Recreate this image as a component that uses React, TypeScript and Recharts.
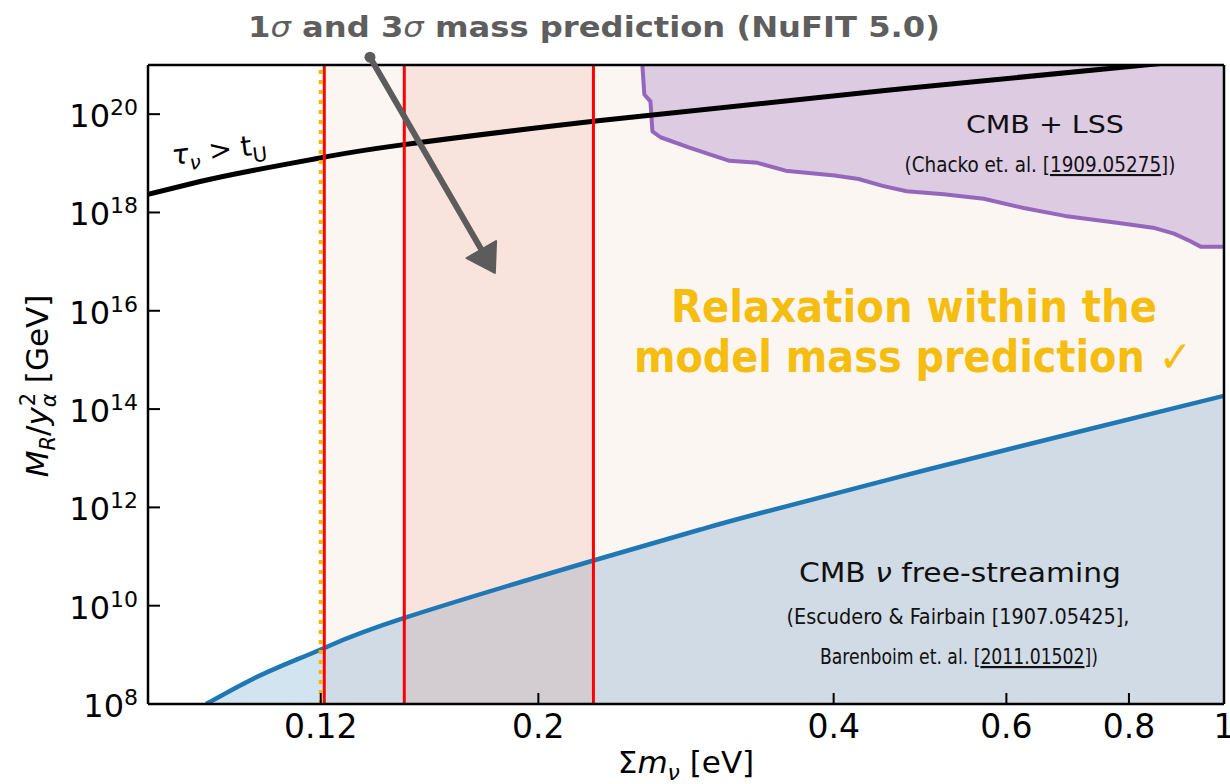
import React from 'react';
import { ComposedChart, Line, Area, XAxis, YAxis, ReferenceLine, ReferenceDot } from 'recharts';

// ---- data (Σm_ν in eV, log10 of M_R/y_α^2 in GeV) ----
const lifetimeMass = [0.08, 0.0904, 0.1017, 0.1213, 0.1446, 0.2313, 0.4487, 0.8306, 1.0];
const lifetimeLog = [18.37, 18.63, 18.845, 19.13, 19.37, 19.87, 20.476, 21.0, 21.15];

const freeStreamMass = [0.0917, 0.1009, 0.1099, 0.121, 0.146, 0.2276, 0.2926, 0.3378, 0.4943, 0.7212, 1.0];
const freeStreamLog = [8.0, 8.45, 8.79, 9.14, 9.75, 10.92, 11.55, 11.89, 12.75, 13.57, 14.27];

const lssMass = [0.2553, 0.2565, 0.2602, 0.2614, 0.2664, 0.2851, 0.3132, 0.3345, 0.3573, 0.4009, 0.4241, 0.4487, 0.4747, 0.5178, 0.5689, 0.625, 0.6884, 0.7775, 0.8464, 0.8892, 0.9232, 0.9475, 1.0];
const lssLog = [21.0, 20.4, 20.26, 19.65, 19.53, 19.32, 19.05, 19.01, 18.85, 18.75, 18.68, 18.54, 18.43, 18.37, 18.28, 18.09, 17.93, 17.79, 17.69, 17.57, 17.42, 17.3, 17.3];

const sigma3Range = [0.121, 1.0];
const sigma1Range = [0.146, 0.2276];
const sigma3Lines = [0.121, 0.146, 0.2276];
const lightestBound = 0.12;

const arrowMass = [0.1347, 0.1806];
const arrowLog = [21.16, 16.77];

const xTicks = [0.12, 0.2, 0.4, 0.6, 0.8, 1];
const xTickLabels = ['0.12', '0.2', '0.4', '0.6', '0.8', '1'];
const yTickExps = [8, 10, 12, 14, 16, 18, 20];

const X_DOMAIN = [0.08, 1];
const Y_DOMAIN = [1e8, 1e21];

// ---- tables built from the arrays ----
const lifetimeData = lifetimeMass.map((m, i) => ({ m, M: 10 ** lifetimeLog[i] }));
const fsData = freeStreamMass.map((m, i) => ({ m, M: 10 ** freeStreamLog[i] }));
const fsLeft = fsData.filter((d) => d.m <= sigma3Range[0]);
const fsRight = fsData.filter((d) => d.m >= sigma3Range[0]);
const lssData = lssMass.map((m, i) => ({ m, M: 10 ** lssLog[i], range: [10 ** lssLog[i], Y_DOMAIN[1]] }));
const band3 = sigma3Range.map((m) => ({ m, range: [Y_DOMAIN[0], Y_DOMAIN[1]] }));
const band1 = sigma1Range.map((m) => ({ m, range: [Y_DOMAIN[0], Y_DOMAIN[1]] }));
const yTicks = yTickExps.map((e) => 10 ** e);

const SANS = "'DejaVu Sans', 'Noto Sans', sans-serif";
const HAND = "'DejaVu Sans', 'Noto Sans', sans-serif";
const NARROW = "'Liberation Sans Narrow', 'DejaVu Sans Condensed', 'Noto Sans', sans-serif";
const GOLD = '#f4bd10';

const XTick = (props: any) => {
  const { x, y, payload } = props;
  const idx = xTicks.indexOf(payload.value);
  return (
    <text x={x} y={y} dy={34} textAnchor="middle" fontSize={33} fontFamily={SANS} fill="#000">
      {idx >= 0 ? xTickLabels[idx] : ''}
    </text>
  );
};

const YTick = (props: any) => {
  const { x, y, payload } = props;
  const exp = Math.round(Math.log10(payload.value));
  return (
    <text x={x} y={y} textAnchor="end" fontFamily={SANS} fill="#000">
      <tspan fontSize={32} dy={13}>10</tspan>
      <tspan fontSize={22} dy={-12}>{exp}</tspan>
    </text>
  );
};

const XLabel = () => (
  <text x={686} y={773} textAnchor="middle" fontSize={31} fontFamily={SANS} fill="#000">
    Σ<tspan fontStyle="italic">m</tspan>
    <tspan fontStyle="italic" fontSize={22} dy={7}>ν</tspan>
    <tspan dy={-7}> [eV]</tspan>
  </text>
);

const YLabel = () => {
  const cx = 48;
  const cy = 386;
  return (
    <text x={cx} y={cy} transform={`rotate(-90, ${cx}, ${cy})`} textAnchor="middle" fontSize={31} fontFamily={SANS} fill="#000">
      <tspan fontStyle="italic">M</tspan>
      <tspan fontStyle="italic" fontSize={21} dy={7}>R</tspan>
      <tspan dy={-7}>/</tspan>
      <tspan fontStyle="italic">y</tspan>
      <tspan fontStyle="italic" fontSize={21} dy={8}>α</tspan>
      <tspan fontSize={21} dx={-13} dy={-21}>2</tspan>
      <tspan dy={13}> [GeV]</tspan>
    </text>
  );
};

const ArrowShape = (p: any) => {
  const { x1, y1, x2, y2 } = p;
  if ([x1, y1, x2, y2].some((v) => typeof v !== 'number' || isNaN(v))) return <g />;
  const dx = x2 - x1;
  const dy = y2 - y1;
  const len = Math.hypot(dx, dy);
  const ux = dx / len;
  const uy = dy / len;
  const head = 27;
  const half = 17;
  const bx = x2 - ux * head;
  const by = y2 - uy * head;
  const px = -uy;
  const py = ux;
  const col = '#5c5c5c';
  return (
    <g>
      <line x1={x1} y1={y1} x2={bx + ux * 4} y2={by + uy * 4} stroke={col} strokeWidth={6} strokeLinecap="round" />
      <circle cx={x1} cy={y1} r={5.5} fill={col} />
      <polygon
        points={`${x2},${y2} ${bx + px * half},${by + py * half} ${bx - px * half},${by - py * half}`}
        fill={col}
        stroke={col}
        strokeWidth={2}
        strokeLinejoin="round"
      />
    </g>
  );
};

type Note = {
  m: number;
  e: number;
  render: (cx: number, cy: number) => React.ReactElement;
};

const notes: Note[] = [
  {
    m: 0.2279,
    e: 21.57,
    render: (cx, cy) => (
      <text x={cx} y={cy} textAnchor="middle" fontSize={29} fontWeight="bold" fontFamily={HAND} fill="#5e5e5e" textLength={692} lengthAdjust="spacingAndGlyphs">
        1<tspan fontStyle="italic" fontWeight="normal">σ</tspan> and 3<tspan fontStyle="italic" fontWeight="normal">σ</tspan> mass prediction (NuFIT 5.0)
      </text>
    ),
  },
  {
    m: 0.483,
    e: 15.772,
    render: (cx, cy) => (
      <text x={cx} y={cy} textAnchor="middle" fontSize={44} fontWeight="bold" fontFamily={HAND} fill={GOLD} textLength={486} lengthAdjust="spacingAndGlyphs">
        Relaxation within the
      </text>
    ),
  },
  {
    m: 0.4819,
    e: 14.754,
    render: (cx, cy) => (
      <text x={cx} y={cy} textAnchor="middle" fontSize={44} fontWeight="bold" fontFamily={HAND} fill={GOLD} textLength={558} lengthAdjust="spacingAndGlyphs">
        model mass prediction ✓
      </text>
    ),
  },
  {
    m: 0.6568,
    e: 19.617,
    render: (cx, cy) => (
      <text x={cx} y={cy} textAnchor="middle" fontSize={24} fontFamily={HAND} fill="#111" textLength={158} lengthAdjust="spacingAndGlyphs">
        CMB + LSS
      </text>
    ),
  },
  {
    m: 0.6492,
    e: 18.823,
    render: (cx, cy) => (
      <text x={cx} y={cy} textAnchor="middle" fontSize={21} fontFamily={NARROW} fill="#111" textLength={271} lengthAdjust="spacingAndGlyphs">
        (Chacko et. al. [<tspan textDecoration="underline">1909.05275</tspan>])
      </text>
    ),
  },
  {
    m: 0.538,
    e: 10.482,
    render: (cx, cy) => (
      <text x={cx} y={cy} textAnchor="middle" fontSize={26} fontFamily={HAND} fill="#111" textLength={322} lengthAdjust="spacingAndGlyphs">
        CMB <tspan fontStyle="italic">ν</tspan> free-streaming
      </text>
    ),
  },
  {
    m: 0.5355,
    e: 9.628,
    render: (cx, cy) => (
      <text x={cx} y={cy} textAnchor="middle" fontSize={22} fontFamily={NARROW} fill="#111" textLength={343} lengthAdjust="spacingAndGlyphs">
        (Escudero &amp; Fairbain [1907.05425],
      </text>
    ),
  },
  {
    m: 0.5368,
    e: 8.814,
    render: (cx, cy) => (
      <text x={cx} y={cy} textAnchor="middle" fontSize={22} fontFamily={NARROW} fill="#111" textLength={278} lengthAdjust="spacingAndGlyphs">
        Barenboim et. al. [<tspan textDecoration="underline">2011.01502</tspan>])
      </text>
    ),
  },
  {
    m: 0.08484,
    e: 18.966,
    render: (cx, cy) => (
      <text x={cx} y={cy} transform={`rotate(-7, ${cx}, ${cy})`} textAnchor="start" fontSize={28} fontFamily={SANS} fill="#000">
        <tspan fontStyle="italic">τ</tspan>
        <tspan fontStyle="italic" fontSize={20} dy={7}>ν</tspan>
        <tspan dy={-7}> &gt; t</tspan>
        <tspan fontSize={20} dy={7}>U</tspan>
      </text>
    ),
  },
];

export default function App() {
  return (
    <div style={{ position: 'absolute', left: 0, top: 0, width: 1230, height: 784, background: '#fff' }}>
      <ComposedChart width={1230} height={784} margin={{ top: 65, right: 6, bottom: 20, left: 8 }}>
        <XAxis
          dataKey="m"
          type="number"
          scale="log"
          domain={X_DOMAIN}
          allowDataOverflow
          ticks={xTicks}
          tick={<XTick />}
          tickSize={-11}
          tickMargin={11}
          height={60}
          axisLine={{ stroke: '#000', strokeWidth: 2.5 }}
          tickLine={{ stroke: '#000', strokeWidth: 2 }}
          label={XLabel}
        />
        <YAxis
          type="number"
          scale="log"
          domain={Y_DOMAIN}
          allowDataOverflow
          ticks={yTicks}
          tick={<YTick />}
          tickSize={-12}
          tickMargin={22}
          width={140}
          axisLine={{ stroke: '#000', strokeWidth: 2.5 }}
          tickLine={{ stroke: '#000', strokeWidth: 2 }}
          label={YLabel}
        />
        <Area data={band3} dataKey="range" type="linear" fill="#fcf6f3" fillOpacity={1} stroke="none" isAnimationActive={false} />
        <Area data={lssData} dataKey="range" type="linear" fill="#ddcbe2" fillOpacity={1} stroke="none" isAnimationActive={false} />
        <Area data={fsLeft} dataKey="M" type="natural" baseValue={Y_DOMAIN[0]} fill="#d2e4ef" fillOpacity={1} stroke="none" isAnimationActive={false} />
        <Area data={fsRight} dataKey="M" type="natural" baseValue={Y_DOMAIN[0]} fill="#d0dbe5" fillOpacity={1} stroke="none" isAnimationActive={false} />
        <Area data={band1} dataKey="range" type="linear" fill="#e8765f" fillOpacity={0.14} stroke="none" isAnimationActive={false} />
        <Line data={fsData} dataKey="M" type="natural" stroke="#1f77b4" strokeWidth={4.5} dot={false} isAnimationActive={false} />
        <Line data={lssData} dataKey="M" type="linear" stroke="#9467bd" strokeWidth={4} strokeLinejoin="round" dot={false} isAnimationActive={false} />
        <Line data={lifetimeData} dataKey="M" type="natural" stroke="#000" strokeWidth={5} dot={false} isAnimationActive={false} />
        {sigma3Lines.map((x) => (
          <ReferenceLine key={x} x={x} stroke="#ff0000" strokeWidth={3} />
        ))}
        <ReferenceLine x={lightestBound} stroke="#f5b800" strokeWidth={4} strokeDasharray="4 6" />
        <ReferenceLine y={Y_DOMAIN[1]} stroke="#000" strokeWidth={2.5} />
        <ReferenceLine x={X_DOMAIN[1]} stroke="#000" strokeWidth={2.5} />
        <ReferenceLine
          segment={[
            { x: arrowMass[0], y: 10 ** arrowLog[0] },
            { x: arrowMass[1], y: 10 ** arrowLog[1] },
          ]}
          ifOverflow="visible"
          shape={ArrowShape}
        />
        {notes.map((n, i) => (
          <ReferenceDot
            key={i}
            x={n.m}
            y={10 ** n.e}
            r={0}
            ifOverflow="visible"
            shape={(p: any) => n.render(p.cx, p.cy)}
          />
        ))}
      </ComposedChart>
    </div>
  );
}
